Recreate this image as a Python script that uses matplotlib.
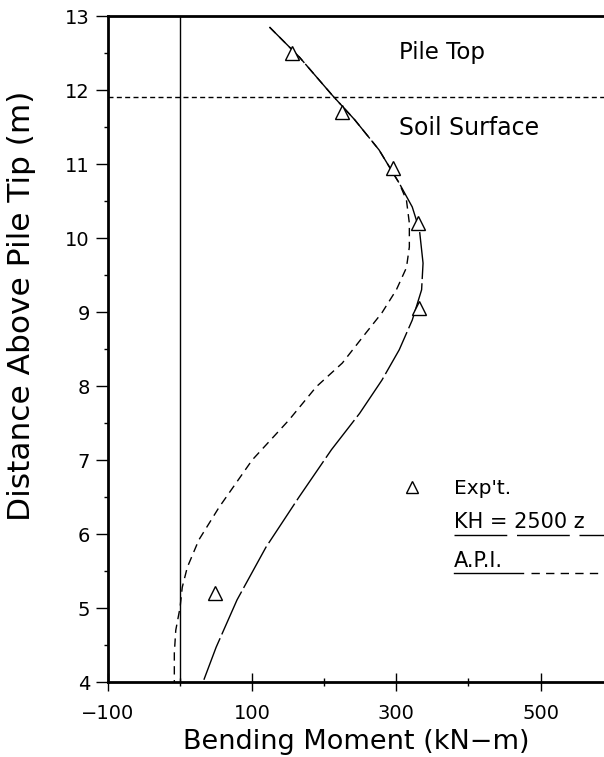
import numpy as np
import matplotlib
matplotlib.use("Agg")
import matplotlib.pyplot as plt
from matplotlib.ticker import MultipleLocator

# measured points (Exp't.)
exp_moment = [155, 225, 295, 330, 332, 49]
exp_depth = [12.5, 11.7, 10.95, 10.2, 9.05, 5.2]

# KH = 2500 z curve
kh_depth = [12.85, 12.45, 11.93, 11.6, 11.19, 10.74, 10.42, 10.11, 9.66, 9.3,
            8.89, 8.49, 8.08, 7.63, 7.14, 6.5, 5.82, 5.11, 4.47, 4.03]
kh_moment = [124, 165, 211, 242, 276, 304, 322, 332, 337, 335,
             322, 304, 280, 249, 210, 165, 119, 79, 50, 33]

# A.P.I. curve
api_depth = [12.85, 12.45, 11.93, 11.6, 11.19, 10.74, 10.51, 10.2, 9.88, 9.6,
             9.3, 8.99, 8.72, 8.31, 7.99, 7.54, 7.0, 6.36, 5.92, 5.55,
             5.28, 5.01, 4.7, 4.39, 4.0]
api_moment = [124, 165, 211, 242, 276, 304, 314, 318, 318, 314,
              300, 280, 258, 225, 189, 151, 100, 54, 26, 10,
              3, 0, -6, -8, -8]

soil_surface = 11.9
x_ticks = [-100, 100, 300, 500]
y_ticks = [4, 5, 6, 7, 8, 9, 10, 11, 12, 13]

plt.rcParams['font.family'] = ['DejaVu Sans']

fig = plt.figure(figsize=(6.04, 7.57), dpi=100)
ax = fig.add_axes([108 / 604, 75 / 757, 496 / 604, 666 / 757])

ax.axvline(0, color='black', lw=1.0)
ax.axhline(soil_surface, color='black', lw=1.0, dashes=(3.6, 2.4))

ax.plot(kh_moment, kh_depth, color='black', lw=1.0, dashes=(34, 3))
ax.plot(api_moment, api_depth, color='black', lw=1.0, dashes=(6, 4))
ax.plot(exp_moment, exp_depth, linestyle='none', marker='^', markersize=10,
        markerfacecolor='white', markeredgecolor='black', markeredgewidth=1.0)

ax.text(304, 12.5, "Pile Top", fontsize=16.5, va='center', ha='left')
ax.text(304, 11.49, "Soil Surface", fontsize=17, va='center', ha='left')

# hand drawn legend
ax.plot([322], [6.64], linestyle='none', marker='^', markersize=9,
        markerfacecolor='white', markeredgecolor='black', markeredgewidth=1.0)
ax.text(380, 6.62, "Exp't.", fontsize=14.5, va='center', ha='left')
ax.text(380, 6.16, "KH = 2500 z", fontsize=15, va='center', ha='left')
ax.plot([380, 600], [5.99, 5.99], color='black', lw=1.0, dashes=(38, 7))
ax.text(380, 5.64, "A.P.I.", fontsize=15, va='center', ha='left')
ax.plot([380, 475], [5.47, 5.47], color='black', lw=1.0)
ax.plot([487, 600], [5.47, 5.47], color='black', lw=1.0, dashes=(6, 4.5))

ax.set_xlim(-100, 588)
ax.set_ylim(4, 13)
ax.set_xticks(x_ticks)
ax.set_yticks(y_ticks)
ax.xaxis.set_minor_locator(MultipleLocator(100))
ax.yaxis.set_minor_locator(MultipleLocator(0.5))

ax.spines['right'].set_visible(False)
for side in ['left', 'top', 'bottom']:
    ax.spines[side].set_linewidth(2.0)

ax.tick_params(axis='x', which='major', direction='inout', length=13, width=1.0,
               labelsize=14, pad=9)
ax.tick_params(axis='x', which='minor', direction='inout', length=6, width=1.0)
ax.tick_params(axis='y', which='major', direction='out', length=9, width=1.0,
               labelsize=14, pad=4)
ax.tick_params(axis='y', which='minor', direction='out', length=3, width=1.0)

ax.set_xlabel("Bending Moment (kN\u2212m)", fontsize=19.5, labelpad=5)
ax.set_ylabel("Distance Above Pile Tip (m)", fontsize=22.5, labelpad=8)
ax.yaxis.set_label_coords(-0.145, 0.565)

plt.savefig("out.png", dpi=100)
plt.close()
